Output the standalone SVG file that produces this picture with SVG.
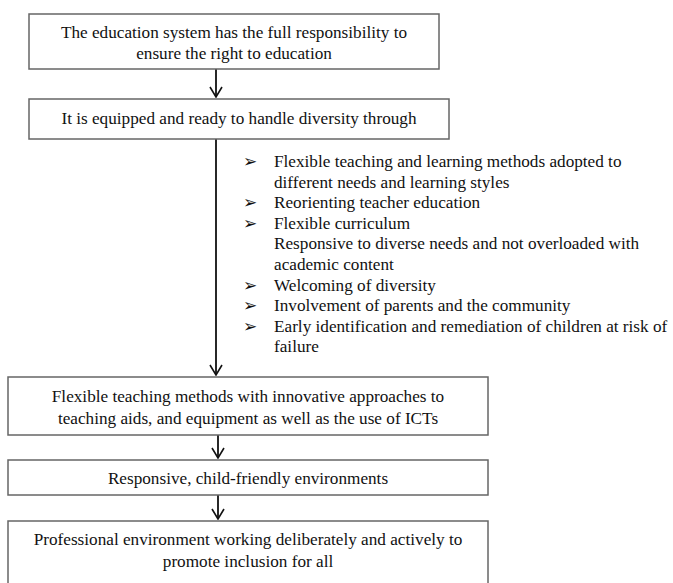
<svg xmlns="http://www.w3.org/2000/svg" width="673" height="583" viewBox="0 0 673 583">
<style>
.box{fill:#fff;stroke:#666;stroke-width:1.5}
.t{font-family:"Liberation Serif","Times New Roman",serif;font-size:17.2px;fill:#111}
.c{text-anchor:middle}
.b{font-family:"DejaVu Sans",sans-serif;font-size:17px;fill:#111}
.ln{stroke:#111;stroke-width:1.8;fill:none}
</style>
<defs>
<marker id="arr" viewBox="-11 -7 12 14" refX="0" refY="0" markerWidth="12" markerHeight="14" orient="auto" markerUnits="userSpaceOnUse">
<path d="M-10,-6 L0,0 L-10,6" fill="none" stroke="#111" stroke-width="1.6"/>
</marker>
</defs>
<rect width="673" height="583" fill="#fff"/>
<g id="connectors">
<line class="ln" x1="216" y1="69" x2="216" y2="97" marker-end="url(#arr)"/>
<line class="ln" x1="216" y1="139" x2="216" y2="375" marker-end="url(#arr)"/>
<line class="ln" x1="218" y1="435" x2="218" y2="458" marker-end="url(#arr)"/>
<line class="ln" x1="218" y1="495" x2="218" y2="519" marker-end="url(#arr)"/>
</g>
<g id="n1">
<rect class="box" x="29" y="14" width="410" height="55"/>
<text class="t c" x="234" y="38">The education system has the full responsibility to</text>
<text class="t c" x="234" y="59">ensure the right to education</text>
</g>
<g id="n2">
<rect class="box" x="29" y="99" width="420" height="40"/>
<text class="t c" x="239" y="124">It is equipped and ready to handle diversity through</text>
</g>
<g id="list">
<text class="b" x="243" y="167">➢</text>
<text class="t" x="274" y="167">Flexible teaching and learning methods adopted to</text>
<text class="t" x="274" y="187.6">different needs and learning styles</text>
<text class="b" x="243" y="208.2">➢</text>
<text class="t" x="274" y="208.2">Reorienting teacher education</text>
<text class="b" x="243" y="228.8">➢</text>
<text class="t" x="274" y="228.8">Flexible curriculum</text>
<text class="t" x="274" y="249.4">Responsive to diverse needs and not overloaded with</text>
<text class="t" x="274" y="270">academic content</text>
<text class="b" x="243" y="290.6">➢</text>
<text class="t" x="274" y="290.6">Welcoming of diversity</text>
<text class="b" x="243" y="311.2">➢</text>
<text class="t" x="274" y="311.2">Involvement of parents and the community</text>
<text class="b" x="243" y="331.8">➢</text>
<text class="t" x="274" y="331.8">Early identification and remediation of children at risk of</text>
<text class="t" x="274" y="352.4">failure</text>
</g>
<g id="n3">
<rect class="box" x="8" y="377" width="480" height="58"/>
<text class="t c" x="248" y="402">Flexible teaching methods with innovative approaches to</text>
<text class="t c" x="248" y="424">teaching aids, and equipment as well as the use of ICTs</text>
</g>
<g id="n4">
<rect class="box" x="8" y="460" width="480" height="35"/>
<text class="t c" x="248" y="484">Responsive, child-friendly environments</text>
</g>
<g id="n5">
<rect class="box" x="8" y="521" width="480" height="80"/>
<text class="t c" x="248" y="545">Professional environment working deliberately and actively to</text>
<text class="t c" x="248" y="567">promote inclusion for all</text>
</g>
</svg>
